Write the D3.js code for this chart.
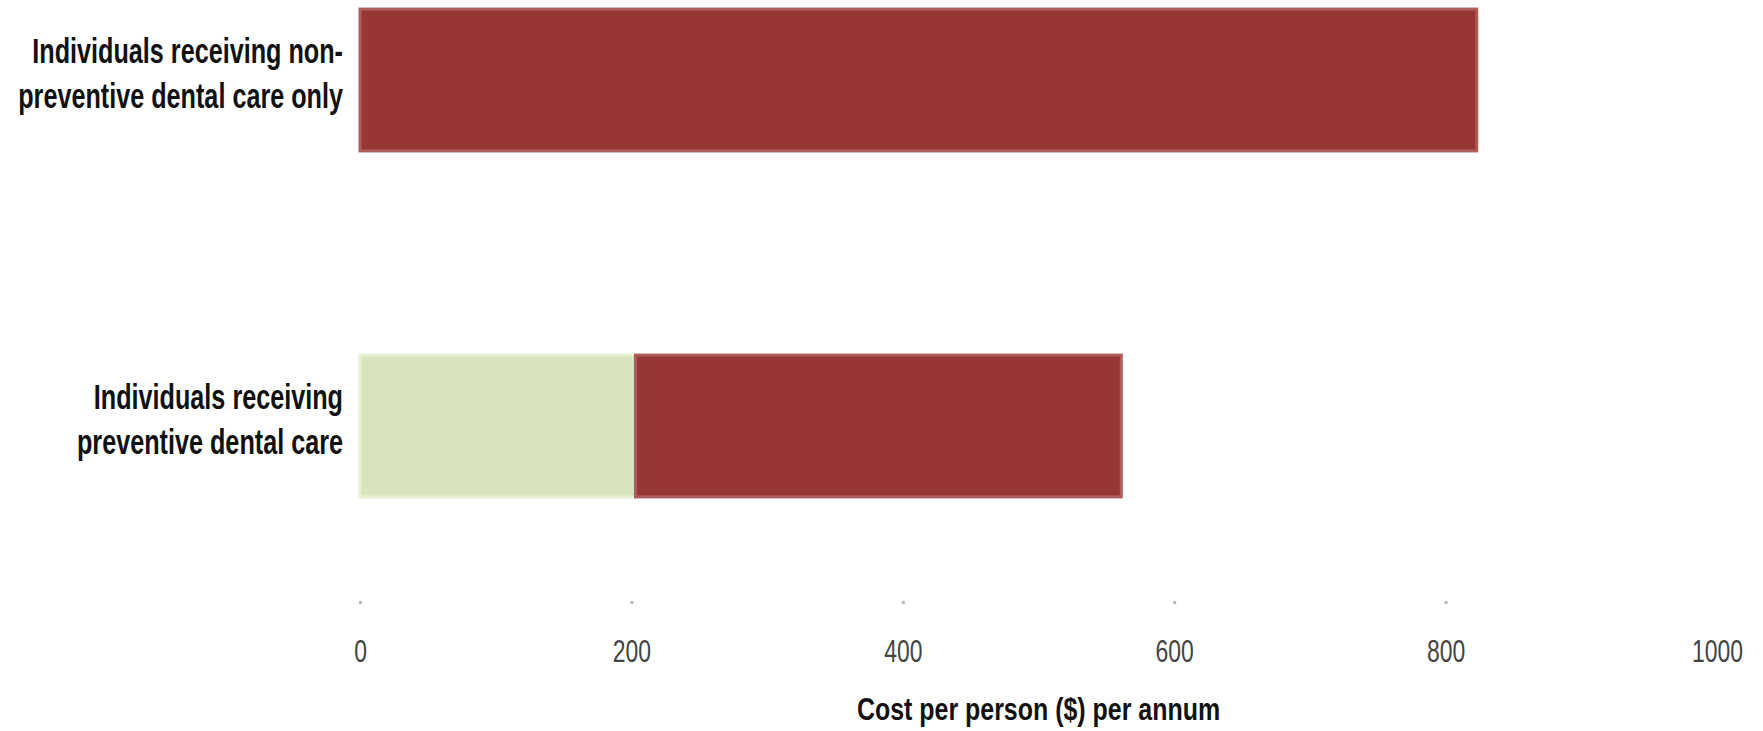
<!DOCTYPE html>
<html>
<head>
<meta charset="utf-8">
<script src="https://cdn.jsdelivr.net/npm/d3@7"></script>
<style>
  body { margin: 0; background: #fff; }
  text { font-family: "Liberation Sans", Arial, sans-serif; }
</style>
</head>
<body>
<script>
// chart data
const categories = [
  ["Individuals receiving non-", "preventive dental care only"],
  ["Individuals receiving", "preventive dental care"]
];
const preventiveCost = [0, 203];
const otherCost = [823, 358];
const xTicks = [0, 200, 400, 600, 800, 1000];
const xTitle = "Cost per person ($) per annum";

const width = 1763, height = 731;

const svg = d3.select("body").append("svg")
  .attr("width", width)
  .attr("height", height);

const x = d3.scaleLinear().domain([0, 1000]).range([360, 1717]);
const y = d3.scaleBand()
  .domain(d3.range(categories.length))
  .range([-93, 599])
  .paddingInner(0.59)
  .paddingOuter(0.295);

// stacked segments
const rows = categories.map(function (c, i) {
  return { i: i, pre: preventiveCost[i], other: otherCost[i] };
});

svg.append("g").selectAll("rect.pre")
  .data(rows.filter(d => d.pre > 0))
  .join("rect")
  .attr("x", d => x(0))
  .attr("y", d => y(d.i))
  .attr("width", d => x(d.pre) - x(0))
  .attr("height", y.bandwidth())
  .attr("fill", "#d7e4bd")
  .attr("stroke", "#e6f1d0")
  .attr("stroke-width", 3);

svg.append("g").selectAll("rect.other")
  .data(rows)
  .join("rect")
  .attr("x", d => x(d.pre))
  .attr("y", d => y(d.i))
  .attr("width", d => x(d.pre + d.other) - x(d.pre))
  .attr("height", y.bandwidth())
  .attr("fill", "#963736")
  .attr("stroke", "#ad5d5c")
  .attr("stroke-width", 3);

// x axis: tiny grey ticks, no domain line, last tick has no mark
const axis = svg.append("g")
  .attr("transform", "translate(0,601)")
  .call(d3.axisBottom(x).tickValues(xTicks).tickSize(3).tickFormat(d3.format("d")));
axis.select(".domain").remove();
axis.selectAll(".tick line")
  .attr("stroke", "#b8b8b8")
  .attr("stroke-width", 3)
  .attr("display", d => d === 1000 ? "none" : null);
axis.selectAll(".tick text")
  .attr("y", 61).attr("dy", 0)
  .attr("fill", "#444")
  .attr("font-size", 31)
  .attr("transform", "scale(0.74,1)");

// category labels, right aligned next to the bars
const labels = svg.append("g");
categories.forEach(function (lines, i) {
  const cy = y(i) + y.bandwidth() / 2;
  lines.forEach(function (line, k) {
    labels.append("text")
      .attr("transform", "translate(343," + (cy - 17 + k * 45) + ") scale(0.72,1)")
      .attr("text-anchor", "end")
      .attr("font-size", 35)
      .attr("font-weight", "bold")
      .attr("fill", "#111")
      .text(line);
  });
});

svg.append("text")
  .attr("transform", "translate(" + ((x.range()[0] + x.range()[1]) / 2) + ",720) scale(0.78,1)")
  .attr("text-anchor", "middle")
  .attr("font-size", 32)
  .attr("font-weight", "bold")
  .attr("fill", "#111")
  .text(xTitle);
</script>
</body>
</html>
